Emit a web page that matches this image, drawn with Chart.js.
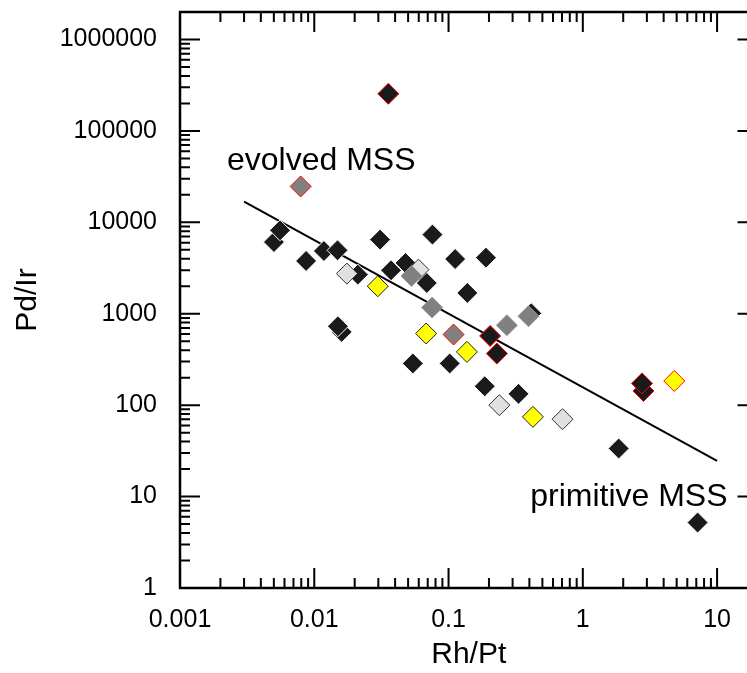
<!DOCTYPE html>
<html>
<head>
<meta charset="utf-8">
<script src="https://cdn.jsdelivr.net/npm/chart.js@4"></script>
<style>
  html, body { margin: 0; padding: 0; background: #fff; overflow: hidden; }
  #wrap { width: 769px; height: 673px; }
</style>
</head>
<body>
<div id="wrap"><canvas id="chart"></canvas></div>
<script>
const xTickValues = [0.001, 0.01, 0.1, 1, 10];
const xTickLabels = ['0.001', '0.01', '0.1', '1', '10'];
const yTickValues = [1, 10, 100, 1000, 10000, 100000, 1000000];
const yTickLabels = ['1', '10', '100', '1000', '10000', '100000', '1000000'];

// Rh/Pt (x) and Pd/Ir (y) by symbol group
const blackRh = [0.00501, 0.00556, 0.00869, 0.0118, 0.0149, 0.0309, 0.0759, 0.112, 0.190, 0.0211, 0.0373, 0.0478, 0.0689, 0.138, 0.0160, 0.0150, 0.0542, 0.102, 0.186, 0.332, 1.85, 7.16, 0.413];
const blackPd = [6090, 8180, 3780, 4860, 4940, 6470, 7340, 3970, 4110, 2680, 2990, 3590, 2170, 1690, 633, 730, 286, 286, 161, 133, 33.6, 5.2, 1012];
const lightRh = [0.0175, 0.0597, 0.239, 0.706];
const lightPd = [2750, 3040, 100, 70.3];
const grayRh = [0.053, 0.0755, 0.272, 0.394];
const grayPd = [2590, 1170, 749, 939];
const grayRedRh = [0.00792, 0.109];
const grayRedPd = [24700, 593];
const yellowRh = [0.0297, 0.0681, 0.137, 0.425];
const yellowPd = [2000, 608, 383, 74.5];
const yellowRedRh = [4.8];
const yellowRedPd = [184];
const blackRedRh = [0.0356, 0.204, 0.229, 2.83, 2.76];
const blackRedPd = [255000, 572, 367, 143, 173];
const trendRh = [0.003, 10];
const trendPd = [16900, 24.6];

const FONT = "'Liberation Sans', Arial, Helvetica, sans-serif";

function pts(xs, ys) {
  return xs.map((v, i) => ({ x: v, y: ys[i] }));
}

function group(data, fill, edge, order) {
  return {
    type: 'scatter',
    data: data,
    pointStyle: 'rectRot',
    pointRadius: 10.5,
    pointHoverRadius: 10.5,
    backgroundColor: fill,
    borderColor: edge,
    borderWidth: 1,
    order: order
  };
}

function logTicks(min, max) {
  const out = [];
  for (let n = Math.floor(Math.log10(min)); n <= Math.ceil(Math.log10(max)); n++) {
    for (let k = 1; k <= 9; k++) {
      const v = Number((k * Math.pow(10, n)).toPrecision(12));
      if (v >= min && v <= max) out.push({ v: v, major: k === 1 });
    }
  }
  return out;
}

const frame = {
  id: 'frame',
  afterDatasetsDraw(chart) {
    const { ctx, chartArea: a, scales } = chart;
    const x = scales.x, y = scales.y;
    ctx.save();
    ctx.strokeStyle = '#000';
    ctx.lineWidth = 2;
    ctx.beginPath();
    for (const t of logTicks(x.min, x.max)) {
      const px = x.getPixelForValue(t.v);
      const len = t.major ? 20 : 10;
      ctx.moveTo(px, a.bottom); ctx.lineTo(px, a.bottom - len);
      ctx.moveTo(px, a.top); ctx.lineTo(px, a.top + len);
    }
    for (const t of logTicks(y.min, y.max)) {
      const py = y.getPixelForValue(t.v);
      const len = t.major ? 20 : 10;
      ctx.moveTo(a.left, py); ctx.lineTo(a.left + len, py);
      ctx.moveTo(a.right, py); ctx.lineTo(a.right - len, py);
    }
    ctx.stroke();
    ctx.lineWidth = 2.5;
    ctx.strokeRect(a.left, a.top, a.right - a.left, a.bottom - a.top);

    ctx.fillStyle = '#000';
    ctx.font = '32px ' + FONT;
    ctx.textBaseline = 'alphabetic';
    ctx.textAlign = 'left';
    ctx.fillText('evolved MSS', x.getPixelForValue(0.00224), y.getPixelForValue(37000));
    ctx.fillText('primitive MSS', x.getPixelForValue(0.4055), y.getPixelForValue(7.87));
    ctx.restore();
  }
};

new Chart(document.getElementById('chart'), {
  type: 'scatter',
  data: {
    datasets: [
      {
        type: 'line',
        data: pts(trendRh, trendPd),
        borderColor: '#000',
        borderWidth: 2,
        pointRadius: 0,
        fill: false,
        order: 9
      },
      group(pts(blackRh, blackPd), '#1a1a1a', '#ffffff', 8),
      group(pts(lightRh, lightPd), '#e0e0e0', '#333333', 7),
      group(pts(grayRh, grayPd), '#808080', '#9a9a9a', 6),
      group(pts(yellowRh, yellowPd), '#ffff00', '#222222', 5),
      group(pts(grayRedRh, grayRedPd), '#808080', '#ff0000', 4),
      group(pts(blackRedRh, blackRedPd), '#1a1a1a', '#ff0000', 3),
      group(pts(yellowRedRh, yellowRedPd), '#ffff00', '#ff0000', 2)
    ]
  },
  options: {
    responsive: true,
    maintainAspectRatio: false,
    animation: false,
    layout: { padding: { left: 0, top: 12, right: 0, bottom: 0 } },
    plugins: {
      legend: { display: false },
      tooltip: { enabled: false }
    },
    scales: {
      x: {
        type: 'logarithmic',
        position: 'bottom',
        min: 0.001,
        max: 20,
        grid: { display: false },
        border: { display: false },
        afterBuildTicks: (s) => { s.ticks = xTickValues.map(v => ({ value: v })); },
        afterFit: (s) => { s.height = 85; s.paddingLeft = 0; s.paddingRight = 0; },
        ticks: {
          autoSkip: false,
          maxRotation: 0,
          padding: 9,
          color: '#000',
          font: { family: FONT, size: 25 },
          callback: (v) => xTickLabels[xTickValues.indexOf(v)]
        },
        title: {
          display: true,
          text: 'Rh/Pt',
          color: '#000',
          font: { family: FONT, size: 30 },
          padding: { top: 0, bottom: 0 }
        }
      },
      y: {
        type: 'logarithmic',
        position: 'left',
        min: 1,
        max: 2000000,
        grid: { display: false },
        border: { display: false },
        afterBuildTicks: (s) => { s.ticks = yTickValues.map(v => ({ value: v })); },
        afterFit: (s) => { s.width = 180; s.paddingTop = 0; s.paddingBottom = 0; },
        ticks: {
          autoSkip: false,
          padding: 15,
          color: '#000',
          font: { family: FONT, size: 25 },
          callback: (v) => yTickLabels[yTickValues.indexOf(v)]
        },
        title: {
          display: true,
          text: 'Pd/Ir',
          color: '#000',
          font: { family: FONT, size: 30 },
          padding: { top: 10, bottom: 0 }
        }
      }
    }
  },
  plugins: [frame]
});
</script>
</body>
</html>
